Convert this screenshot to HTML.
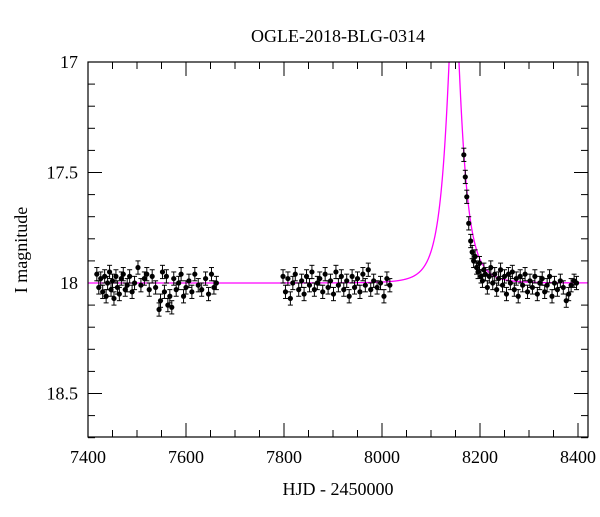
<!DOCTYPE html>
<html><head><meta charset="utf-8"><style>
body{margin:0;background:#fff;}
svg text{font-family:"Liberation Serif",serif;fill:#000;}
</style></head><body>
<svg id="chart" width="600" height="512" viewBox="0 0 600 512">
<text x="338" y="42" font-size="18" text-anchor="middle">OGLE-2018-BLG-0314</text>
<text transform="translate(27,250) rotate(-90)" font-size="18" text-anchor="middle">I magnitude</text>
<text x="338" y="495" font-size="18" text-anchor="middle">HJD - 2450000</text>
<defs><clipPath id="pc"><rect x="88" y="62" width="500" height="375"/></clipPath></defs>
<g id="ticks"></g>
<g id="model" clip-path="url(#pc)"></g>
<g id="pts"></g>
<rect x="88" y="62" width="500" height="375" fill="none" stroke="#000" stroke-width="1.2"/>
</svg>
<script>
const xTicks=[7400,7600,7800,8000,8200,8400];
const yTicks=[17,17.5,18,18.5];
const times=[7418,7422,7426,7430,7434,7437,7440,7444,7447,7450,7453,7457,7460,7464,7468,7472,7476,7480,7485,7490,7495,7502,7508,7515,7520,7525,7531,7538,7545,7548,7552,7556,7560,7563,7567,7571,7575,7580,7585,7590,7595,7600,7606,7612,7618,7625,7632,7640,7646,7652,7657,7662,
7798,7803,7808,7813,7818,7823,7830,7836,7841,7846,7852,7857,7862,7868,7873,7879,7884,7890,7895,7901,7906,7911,7917,7922,7928,7933,7939,7944,7950,7955,7961,7966,7972,7977,7983,7990,7997,8004,8010,8016,
8167,8170,8173,8177,8181,8184,8187,8190,8193,8196,8199,8202,8205,8208,8211,8215,8219,8222,8226,8230,8234,8238,8242,8246,8250,8254,8258,8262,8266,8270,8274,8278,8282,8287,8292,8297,8302,8307,8312,8317,8322,8327,8332,8337,8342,8347,8352,8358,8364,8370,8376,8381,8386,8392,8397];
const mags=[17.96,18.02,17.98,18.04,17.97,18.06,18.00,17.95,18.03,17.99,18.07,17.97,18.02,18.05,17.98,17.96,18.03,18.01,17.97,18.04,18.00,17.93,18.01,17.98,17.96,18.03,17.97,18.02,18.12,18.08,17.95,18.04,17.97,18.10,18.06,18.11,17.98,18.03,18.00,17.96,18.06,18.02,17.99,18.04,17.96,18.01,18.03,17.98,18.05,17.96,18.02,18.00,
17.97,18.04,17.98,18.07,18.00,17.96,18.03,17.99,18.05,17.97,18.01,17.95,18.03,18.00,17.98,18.04,17.96,18.02,17.99,18.05,17.95,18.01,17.97,18.03,17.99,18.06,17.97,18.02,17.98,18.04,17.96,18.01,17.94,18.03,17.99,18.02,18.00,18.06,17.98,18.01,
17.42,17.52,17.61,17.73,17.81,17.86,17.90,17.88,17.93,17.95,17.91,17.97,17.99,17.94,17.96,18.02,17.97,17.93,18.00,17.96,18.03,17.98,17.94,18.01,17.97,18.05,17.96,18.00,17.95,18.03,17.98,18.06,17.97,18.01,17.96,18.04,17.99,18.02,17.97,18.05,18.00,17.98,18.04,18.01,17.97,18.06,18.00,18.03,17.99,18.02,18.08,18.05,18.01,17.99,18.00];
const errs=0.03;
const t0=8147, tE=32.6, u0=0.29, base=18.0;
const X=t=>88+(t-7400)*0.49;
const Y=m=>62+(m-17)*221;
const NS="http://www.w3.org/2000/svg";
function mk(tag,attrs,parent){const e=document.createElementNS(NS,tag);for(const k in attrs)e.setAttribute(k,attrs[k]);parent.appendChild(e);return e;}
const svg=document.getElementById('chart');
const tg=document.getElementById('ticks');
for(let t=7400;t<=8420;t+=50){const maj=(t%200===0);const l=maj?14:7;const x=X(t);
 const a=mk('line',{x1:x,x2:x,y1:437,y2:437-l,stroke:'#000'},tg);
 
 
 const b=mk('line',{x1:x,x2:x,y1:62,y2:62+l,stroke:'#000'},tg);
 
 }
for(let i=0;i<=17;i++){const m=17+i*0.1;const maj=(i%5===0);const l=maj?14:7;const y=Y(m);
 const a=mk('line',{x1:88,x2:88+l,y1:y,y2:y,stroke:'#000'},tg);
 
 
 const b=mk('line',{x1:588,x2:588-l,y1:y,y2:y,stroke:'#000'},tg);
 
 }
xTicks.forEach(t=>{const e=mk('text',{x:X(t),y:463,'font-size':18,'text-anchor':'middle'},svg);e.textContent=t;
 
 });
yTicks.forEach(m=>{const e=mk('text',{x:78,y:Y(m)+6,'font-size':18,'text-anchor':'end'},svg);e.textContent=m;
 
 });
let d='';for(let t=7400;t<=8420;t+=0.5){const u=Math.sqrt(u0*u0+((t-t0)/tE)**2);const A=(u*u+2)/(u*Math.sqrt(u*u+4));
 let m=base-2.5*Math.log10(A);if(m<16.5)m=16.5;d+=(d?'L':'M')+X(t).toFixed(2)+','+Y(m).toFixed(2);}
const mp=mk('path',{d:d,fill:'none',stroke:'#ff00ff','stroke-width':1.3},document.getElementById('model'));


const pg=document.getElementById('pts');
times.forEach((t,i)=>{const x=X(t),y=Y(mags[i]),e=errs*221;
 const g=mk('g',{},pg);
 
 
 mk('line',{x1:x,x2:x,y1:y-e,y2:y+e,stroke:'#000','stroke-width':1},g);
 mk('line',{x1:x-2.5,x2:x+2.5,y1:y-e,y2:y-e,stroke:'#000','stroke-width':1},g);
 mk('line',{x1:x-2.5,x2:x+2.5,y1:y+e,y2:y+e,stroke:'#000','stroke-width':1},g);
 mk('circle',{cx:x,cy:y,r:2.6,fill:'#000'},g);});
</script>
</body></html>
